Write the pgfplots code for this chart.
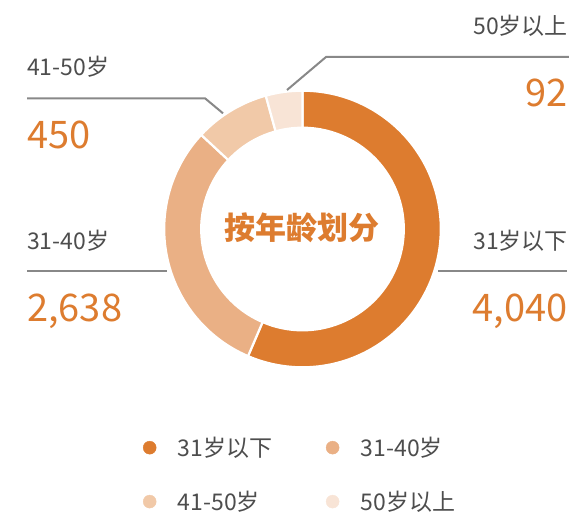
\documentclass[border=0pt]{standalone}
\usepackage{pgfplots}
\pgfplotsset{compat=1.18}
\usepackage{fontspec}
\setmainfont{Noto Sans CJK SC}
\definecolor{c1}{HTML}{DD7C2F}
\definecolor{c2}{HTML}{EAB085}
\definecolor{c3}{HTML}{F1C9A8}
\definecolor{c4}{HTML}{F8E4D6}
\definecolor{txt}{HTML}{4D4D4D}
\definecolor{num}{HTML}{DD7C2F}
\definecolor{lead}{HTML}{888888}
% ring spans (degrees) as drawn in the reference, clockwise from the top
\def\sA{203.2}\def\sB{109.7}\def\sC{31.7}\def\sD{15.4}
\newcommand{\slice}[3]{%
  \filldraw[fill=#3, draw=white, line width=2.2bp]
    ([shift={(#1:138.3bp)}]C) arc[start angle=#1, end angle=#2, radius=138.3bp]
    -- ([shift={(#2:101.3bp)}]C) arc[start angle=#2, end angle=#1, radius=101.3bp] -- cycle;}
\begin{document}
\begin{tikzpicture}
\pgfmathsetmacro{\aA}{90}
\pgfmathsetmacro{\aB}{\aA-\sA}
\pgfmathsetmacro{\aC}{\aB-\sB}
\pgfmathsetmacro{\aD}{\aC-\sC}
\pgfmathsetmacro{\aE}{\aD-\sD}
\begin{axis}[
  width=569bp, height=517bp, scale only axis,
  xmin=0, xmax=569, ymin=0, ymax=517, y dir=reverse,
  hide axis, clip=false,
  legend columns=2,
  legend cell align=left,
  legend image code/.code={\fill[#1] (0bp,0bp) circle[radius=6.5bp];},
  legend style={draw=none, fill=none, inner sep=0pt,
    at={(142.8/569,1-437/517)}, anchor=north west,
    font=\fontsize{23bp}{27bp}\selectfont\color{txt},
    nodes={inner sep=0pt},
    row sep=33bp,
    /tikz/every odd column/.append style={column sep=21.5bp},
    /tikz/every even column/.append style={column sep=53.5bp}},
]
\addlegendimage{c1}\addlegendentry{31岁以下}
\addlegendimage{c2}\addlegendentry{31-40岁}
\addlegendimage{c3}\addlegendentry{41-50岁}
\addlegendimage{c4}\addlegendentry{50岁以上}
\coordinate (C) at (axis cs:302.5,229);
\slice{\aA}{\aB}{c1}
\slice{\aB}{\aC}{c2}
\slice{\aC}{\aD}{c3}
\slice{\aD}{\aE}{c4}
\node[text=num, font=\fontsize{31bp}{36bp}\selectfont\bfseries] at (axis cs:302,228) {按年龄划分};
% leader lines
\draw[lead, line width=2bp] (axis cs:27,98.3) -- (axis cs:205,98.3) -- (axis cs:223,113.3);
\draw[lead, line width=2bp] (axis cs:287,90) -- (axis cs:326,57) -- (axis cs:569,57);
\draw[lead, line width=2bp] (axis cs:27,271) -- (axis cs:167,271);
\draw[lead, line width=2bp] (axis cs:438,271) -- (axis cs:567,271);
% labels
\tikzset{lab/.style={text=txt, inner sep=0pt, font=\fontsize{23bp}{27bp}\selectfont},
         big/.style={text=num, inner sep=0pt, font=\fontsize{38bp}{44bp}\selectfont}}
\node[lab, anchor=base west] at (axis cs:27,76) {41-50岁};
\node[big, anchor=base west] at (axis cs:27,148) {450};
\node[lab, anchor=base west] at (axis cs:27,249) {31-40岁};
\node[big, anchor=base west] at (axis cs:27,321) {2,638};
\node[lab, anchor=base east] at (axis cs:568,35) {50岁以上};
\node[big, anchor=base east] at (axis cs:568,106) {92};
\node[lab, anchor=base east] at (axis cs:568,249) {31岁以下};
\node[big, anchor=base east] at (axis cs:568,321) {4,040};
\end{axis}
\pgfresetboundingbox
\path (0,0) rectangle (569bp,517bp);
\end{tikzpicture}
\end{document}
